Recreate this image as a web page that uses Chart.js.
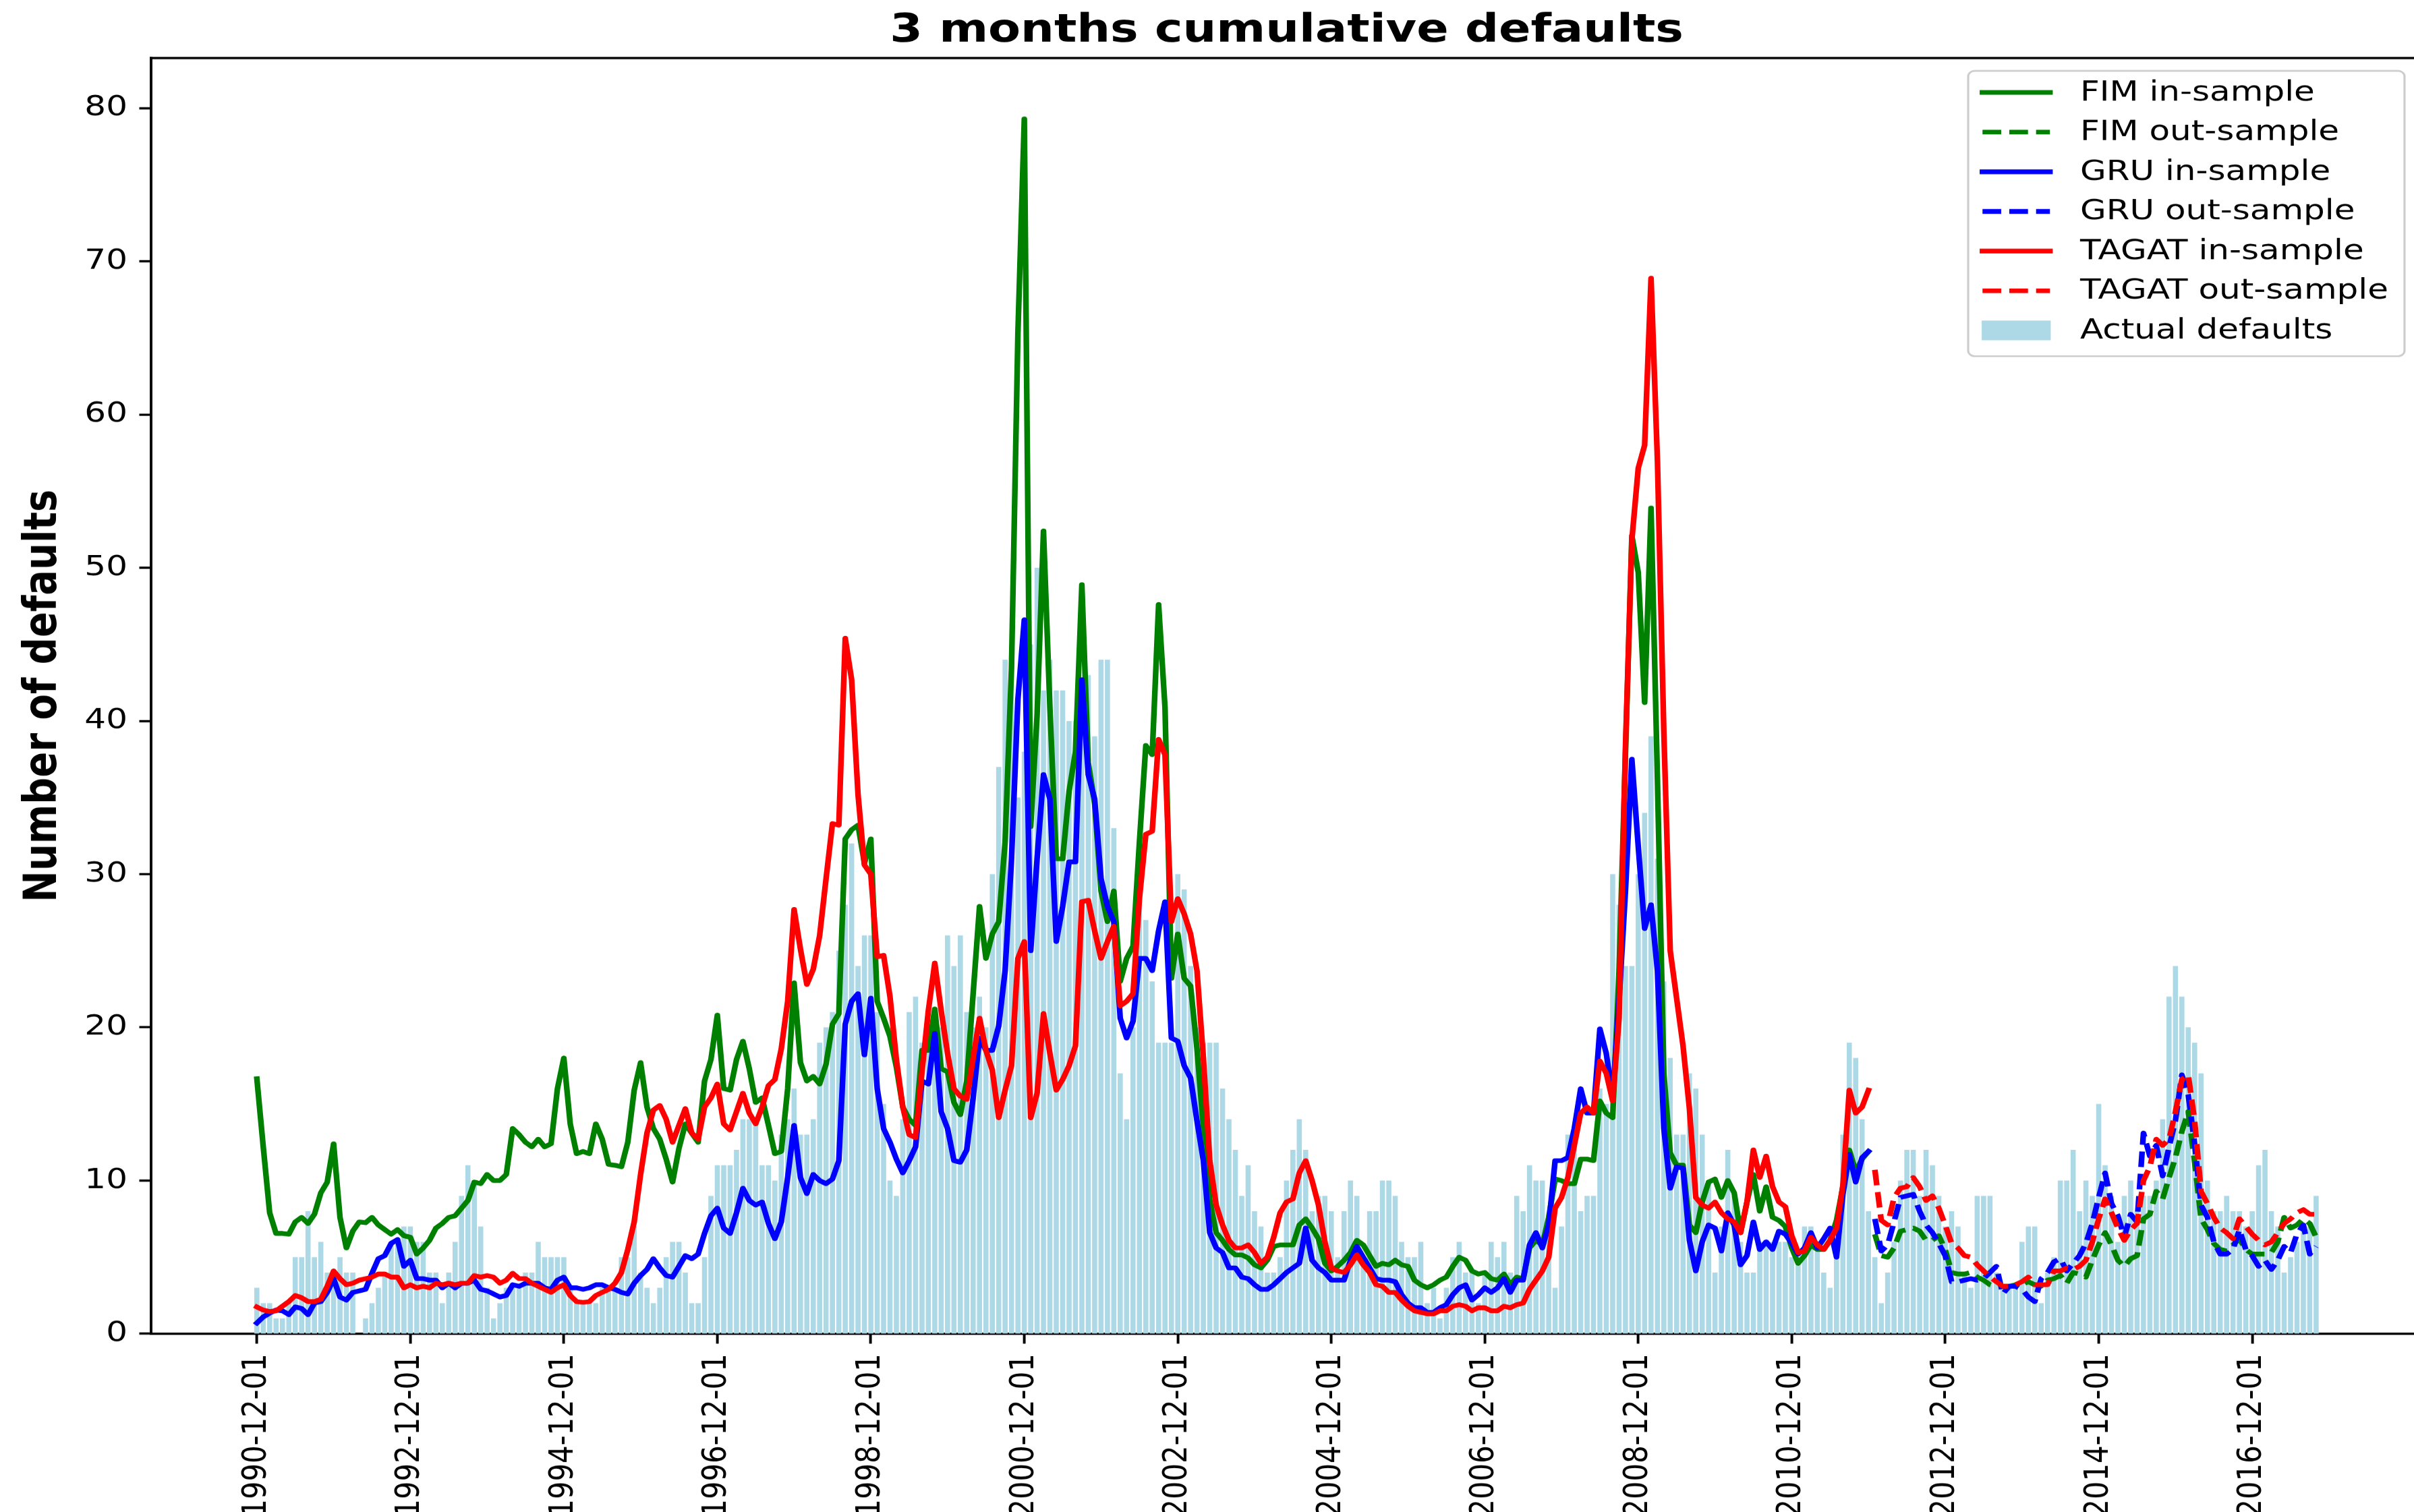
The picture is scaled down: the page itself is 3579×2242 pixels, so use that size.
<!DOCTYPE html>
<html>
<head>
<meta charset="utf-8">
<title>3 months cumulative defaults</title>
<script src="https://cdn.jsdelivr.net/npm/chart.js"></script>
<style>
  html, body { margin: 0; padding: 0; background: #fff; overflow: hidden; }
  /* the figure is laid out on a narrower canvas and widened horizontally */
  #wrap { position: absolute; left: 0; top: 0; transform-origin: 0 0; }
  canvas { display: block; }
</style>
</head>
<body>
<div id="wrap"><canvas id="c" width="2983" height="2242"></canvas></div>
<script>
// ---------------------------------------------------------------------------
// Data: monthly 3-month cumulative default counts, Dec 1990 - Oct 2017
// ---------------------------------------------------------------------------
const startYear = 1990, startMonth = 12, monthCount = 323;

const tickLabels = ['1990-12-01', '1992-12-01', '1994-12-01', '1996-12-01', '1998-12-01',
  '2000-12-01', '2002-12-01', '2004-12-01', '2006-12-01', '2008-12-01', '2010-12-01',
  '2012-12-01', '2014-12-01', '2016-12-01'];

const yTicks = [0, 10, 20, 30, 40, 50, 60, 70, 80];

const actualDefaults = [
  3, 2, 2, 1, 1, 2, 5, 5, 8, 5,
  6, 4, 4, 5, 4, 4, 0, 1, 2, 3,
  4, 6, 6, 7, 7, 6, 6, 4, 4, 2,
  4, 6, 9, 11, 10, 7, 3, 1, 2, 3,
  3, 3, 4, 4, 6, 5, 5, 5, 5, 3,
  2, 2, 2, 2, 3, 3, 3, 5, 5, 7,
  4, 3, 2, 3, 5, 6, 6, 4, 2, 2,
  5, 9, 11, 11, 11, 12, 14, 14, 14, 11,
  11, 10, 13, 14, 16, 13, 13, 14, 19, 20,
  21, 25, 28, 32, 24, 26, 26, 21, 15, 10,
  9, 14, 21, 22, 19, 19, 18, 20, 26, 24,
  26, 21, 20, 22, 20, 30, 37, 44, 44, 35,
  38, 45, 50, 42, 44, 42, 42, 40, 40, 42,
  43, 39, 44, 44, 33, 17, 14, 20, 30, 27,
  23, 19, 19, 19, 30, 29, 24, 20, 19, 19,
  19, 16, 14, 12, 9, 11, 8, 7, 4, 4,
  5, 10, 12, 14, 12, 8, 9, 9, 8, 5,
  8, 10, 9, 5, 8, 8, 10, 10, 9, 6,
  5, 5, 6, 2, 3, 1, 3, 5, 6, 4,
  4, 2, 4, 6, 5, 6, 4, 9, 8, 11,
  10, 10, 7, 3, 7, 13, 13, 8, 9, 9,
  16, 15, 30, 28, 24, 24, 30, 34, 39, 31,
  23, 18, 13, 13, 17, 16, 13, 10, 4, 7,
  12, 9, 6, 4, 4, 6, 6, 6, 6, 6,
  5, 5, 7, 7, 6, 4, 3, 6, 13, 19,
  18, 14, 8, 5, 2, 4, 6, 10, 12, 12,
  9, 12, 11, 9, 7, 8, 7, 4, 3, 9,
  9, 9, 4, 3, 3, 3, 6, 7, 7, 2,
  4, 5, 10, 10, 12, 8, 10, 9, 15, 11,
  9, 6, 9, 10, 8, 9, 9, 10, 14, 22,
  24, 22, 20, 19, 17, 10, 8, 8, 9, 8,
  8, 7, 8, 11, 12, 8, 7, 4, 5, 6,
  7, 7, 9
];

// in-sample fits, Dec 1990 - Dec 2011
const fimIn = [
  16.65, 12.2, 7.9, 6.55, 6.55, 6.5, 7.3, 7.6, 7.2, 7.8,
  9.2, 9.9, 12.4, 7.6, 5.6, 6.7, 7.3, 7.25, 7.6, 7.1,
  6.8, 6.5, 6.8, 6.4, 6.3, 5.2, 5.6, 6.1, 6.9, 7.2,
  7.6, 7.7, 8.2, 8.7, 9.9, 9.8, 10.4, 10.0, 10.0, 10.4,
  13.4, 13.0, 12.5, 12.2, 12.7, 12.2, 12.4, 16.0, 18.0, 13.7,
  11.75, 11.9, 11.75, 13.7, 12.7, 11.05, 11.0, 10.9, 12.5, 15.9,
  17.7, 14.8, 13.4, 12.7, 11.4, 9.9, 12.1, 13.7, 13.1, 12.5,
  16.5, 17.9, 20.8, 16.0, 15.9, 17.9, 19.1, 17.3, 15.1, 15.4,
  13.6, 11.75, 11.9, 16.0, 22.9, 17.7, 16.5, 16.8, 16.3, 17.6,
  20.2, 20.9, 32.3, 32.9, 33.2, 30.7, 32.3, 21.7, 20.6, 19.4,
  17.4, 14.8, 14.0, 13.6, 18.5, 18.5, 21.2, 17.3, 17.1, 15.1,
  14.3, 16.5, 22.2, 27.9, 24.5, 26.1, 26.9, 32.1, 43.5, 65.3,
  79.3, 33.1, 40.4, 52.4, 40.9, 31.0, 31.0, 35.4, 38.0, 48.9,
  37.3, 34.6, 28.9, 26.9, 28.9, 23.0, 24.5, 25.3, 32.1, 38.4,
  37.8, 47.6, 40.9, 23.2, 26.1, 23.2, 22.7, 18.6, 13.4, 8.7,
  6.6, 6.1, 5.5, 5.15, 5.15, 4.95, 4.5, 4.3, 4.8, 5.7,
  5.8, 5.8, 5.8, 7.1, 7.5, 6.9, 6.2, 4.6, 4.1, 4.4,
  4.8, 5.3, 6.1, 5.8, 5.1, 4.4, 4.6, 4.5, 4.8, 4.5,
  4.4, 3.5, 3.2, 3.0, 3.2, 3.5, 3.7, 4.4, 5.0, 4.8,
  4.1, 3.9, 4.0, 3.6, 3.5, 3.9, 3.2, 3.7, 3.6, 5.6,
  6.1, 5.8, 7.6, 10.1, 10.0, 9.8, 9.8, 11.4, 11.4, 11.3,
  15.2, 14.4, 14.1, 23.7, 37.8, 52.1, 49.7, 41.2, 53.9, 36.2,
  17.0, 11.8, 11.0, 11.0, 7.1, 6.6, 8.6, 9.9, 10.1, 8.9,
  10.0, 9.2, 6.6, 8.6, 10.4, 8.0, 9.6, 7.6, 7.4, 7.0,
  5.6, 4.6, 5.1, 5.8, 5.5, 5.5, 6.1, 7.4, 9.6, 12.0,
  10.6, 11.4, 11.9
];

const gruIn = [
  0.7, 1.1, 1.35, 1.55, 1.5, 1.25, 1.75, 1.65, 1.25, 2.0,
  2.1, 2.7, 3.6, 2.4, 2.2, 2.7, 2.8, 2.9, 3.95, 4.9,
  5.1, 5.9, 6.15, 4.4, 4.8, 3.6, 3.6, 3.5, 3.5, 3.0,
  3.3, 3.0, 3.3, 3.3, 3.5, 2.9, 2.8, 2.6, 2.4, 2.5,
  3.2, 3.1, 3.3, 3.3, 3.3, 3.0, 2.9, 3.5, 3.7, 3.0,
  3.0, 2.9, 3.0, 3.2, 3.2, 3.0, 2.9, 2.7, 2.6, 3.3,
  3.8, 4.2, 4.9, 4.3, 3.8, 3.7, 4.4, 5.1, 4.9, 5.2,
  6.55, 7.7, 8.2, 6.9, 6.55, 7.9, 9.5, 8.7, 8.4, 8.6,
  7.2, 6.2, 7.3, 10.2, 13.6, 10.2, 9.15, 10.4, 10.0, 9.8,
  10.1, 11.3, 20.2, 21.7, 22.2, 18.2, 21.9, 16.0, 13.4, 12.5,
  11.4, 10.5, 11.3, 12.2, 16.5, 16.3, 19.6, 14.5, 13.4, 11.3,
  11.2, 12.0, 15.4, 19.3, 18.5, 18.5, 20.1, 23.7, 31.0, 41.4,
  46.6, 25.0, 31.0, 36.5, 34.9, 25.6, 27.9, 30.8, 30.8, 42.7,
  36.5, 34.9, 29.7, 27.9, 26.9, 20.6, 19.3, 20.4, 24.5, 24.5,
  23.7, 26.3, 28.2, 19.3, 19.1, 17.5, 16.7, 13.9, 11.3, 6.6,
  5.6, 5.3, 4.3, 4.3, 3.7, 3.6, 3.2, 2.9, 2.9, 3.2,
  3.6, 4.0, 4.3, 4.6, 6.9, 4.8, 4.3, 4.0, 3.5, 3.5,
  3.5, 4.8, 5.7, 5.0, 4.3, 3.6, 3.5, 3.5, 3.4, 2.55,
  2.0, 1.7, 1.7, 1.4, 1.4, 1.7, 1.9, 2.55, 3.0, 3.2,
  2.2, 2.55, 3.0, 2.7, 3.0, 3.6, 2.7, 3.5, 3.5, 5.8,
  6.6, 5.6, 7.1, 11.3, 11.3, 11.5, 13.4, 16.0, 14.4, 14.4,
  19.9, 18.3, 15.4, 21.7, 28.9, 37.5, 31.8, 26.45, 28.0, 23.7,
  13.4, 9.5, 10.9, 10.8, 6.1, 4.1, 6.0, 7.1, 6.9, 5.4,
  7.9, 7.1, 4.5, 5.1, 7.3, 5.5, 6.0, 5.5, 6.7, 6.5,
  5.9, 5.2, 5.6, 6.6, 5.6, 6.2, 6.9, 5.0, 9.1, 11.7,
  9.9, 11.5, 11.9
];

const tagatIn = [
  1.75, 1.55, 1.45, 1.5, 1.8, 2.1, 2.5, 2.35, 2.1, 2.1,
  2.25, 3.1, 4.1, 3.6, 3.2, 3.3, 3.5, 3.6, 3.7, 3.9,
  3.9, 3.7, 3.7, 3.0, 3.2, 3.0, 3.1, 3.0, 3.3, 3.2,
  3.3, 3.2, 3.3, 3.3, 3.8, 3.7, 3.8, 3.7, 3.3, 3.5,
  3.95, 3.6, 3.6, 3.3, 3.1, 2.9, 2.7, 3.0, 3.2, 2.5,
  2.1, 2.05, 2.1, 2.5, 2.7, 2.9, 3.3, 4.0, 5.5, 7.3,
  10.4, 13.1, 14.6, 14.9, 14.0, 12.5, 13.6, 14.7, 13.1, 12.7,
  14.8, 15.4, 16.3, 13.7, 13.3, 14.5, 15.7, 14.4, 13.7, 14.8,
  16.2, 16.6, 18.6, 21.7, 27.7, 25.1, 22.8, 23.8, 26.0, 29.7,
  33.3, 33.2, 45.4, 42.7, 35.2, 30.6, 30.0, 24.6, 24.7, 22.0,
  17.9, 14.8, 13.0, 12.8, 17.1, 21.1, 24.2, 21.1, 18.3, 16.0,
  15.5, 15.3, 18.0, 20.6, 18.5, 17.2, 14.1, 15.9, 17.5, 24.5,
  25.6, 14.1, 15.7, 20.9, 18.3, 15.9, 16.6, 17.5, 18.8, 28.2,
  28.3, 26.3, 24.5, 25.6, 26.6, 21.4, 21.7, 22.2, 28.4, 32.6,
  32.8, 38.8, 37.8, 26.9, 28.4, 27.4, 26.1, 23.7, 18.0, 11.3,
  8.4, 7.1, 6.1, 5.6, 5.6, 5.8, 5.3, 4.6, 5.0, 6.3,
  7.9, 8.6, 8.8, 10.5, 11.3, 10.0, 8.4, 6.0, 4.3, 4.1,
  4.0, 4.5, 5.15, 4.5, 4.0, 3.2, 3.1, 2.7, 2.7, 2.2,
  1.8, 1.5, 1.4, 1.3, 1.3, 1.5, 1.5, 1.8, 1.9, 1.8,
  1.5, 1.7, 1.7, 1.5, 1.5, 1.8, 1.7, 1.9, 2.0, 2.9,
  3.5, 4.1, 5.0, 8.2, 8.9, 10.2, 12.3, 14.4, 14.8, 14.4,
  17.8, 17.0, 15.2, 20.6, 38.3, 51.8, 56.5, 58.0, 68.9, 57.0,
  39.3, 25.0, 21.9, 18.8, 14.7, 8.9, 8.4, 8.2, 8.6, 7.9,
  7.5, 7.3, 6.6, 8.6, 12.0, 10.2, 11.6, 9.6, 8.6, 8.3,
  6.4, 5.3, 5.4, 6.3, 5.8, 5.5, 6.1, 6.9, 9.7, 15.9,
  14.4, 14.8, 15.9
];

// out-of-sample forecasts, Jan 2012 - Oct 2017
const fimOut = [
  6.5, 5.1, 5.0, 5.6, 6.7, 6.8, 6.9, 6.7, 6.1, 6.1,
  6.4, 5.5, 4.0, 3.9, 3.9, 4.0, 3.7, 3.5, 3.2, 3.1,
  3.1, 3.1, 3.2, 3.2, 3.4, 3.2, 3.1, 3.5, 3.6, 3.8,
  3.3, 4.0, 3.9, 3.7, 4.8, 5.8, 6.6, 5.8, 4.8, 4.4,
  4.9, 5.1, 7.5, 7.8, 9.3, 8.8, 10.2, 11.5, 13.2, 14.5,
  11.2, 7.5, 6.8, 5.9, 5.5, 5.4, 5.8, 6.2, 5.5, 5.2,
  5.2, 5.2, 5.3, 6.0, 7.6, 6.9, 7.1, 7.5, 7.2, 6.3
];

const gruOut = [
  7.5, 5.4, 5.8, 7.3, 8.9, 9.0, 9.1, 8.0, 7.1, 6.6,
  5.9, 5.1, 3.4, 3.4, 3.5, 3.6, 3.5, 3.6, 4.0, 4.4,
  2.6, 3.1, 3.1, 2.9, 2.4, 2.1, 3.6, 4.0, 4.7, 4.9,
  4.1, 4.6, 5.1, 5.9, 7.2, 8.9, 10.5, 8.5, 7.7, 6.3,
  7.8, 7.3, 13.1, 11.6, 12.3, 10.3, 12.2, 13.9, 16.9, 15.6,
  12.4, 8.4, 7.6, 6.0, 5.2, 5.2, 5.5, 6.8, 5.5, 5.1,
  4.4, 4.8, 4.2, 4.8, 5.7, 5.3, 6.5, 7.1, 5.2, 5.7
];

const tagatOut = [
  10.7, 7.4, 7.1, 8.9, 9.5, 9.6, 10.2, 9.6, 8.7, 9.0,
  8.2, 7.1, 5.9, 5.6, 5.1, 5.0, 4.5, 4.1, 3.7, 3.4,
  3.1, 3.1, 3.2, 3.4, 3.7, 3.2, 3.2, 3.2, 4.1, 4.1,
  4.3, 4.2, 4.4, 4.8, 6.0, 7.5, 8.8, 7.9, 6.9, 6.1,
  6.8, 7.2, 10.0, 10.9, 12.7, 12.3, 12.7, 14.5, 16.6, 16.9,
  13.9, 9.3, 8.5, 7.6, 6.9, 6.6, 6.2, 7.5, 7.0, 6.5,
  6.1, 5.8, 6.0, 6.6, 7.2, 7.5, 7.9, 8.1, 7.8, 7.8
];

// month labels ("YYYY-MM-01"), one per data index
const months = [];
for (let k = 0; k < monthCount; k++) {
  const m = startMonth - 1 + k;
  const y = startYear + Math.floor(m / 12);
  months.push(y + '-' + String(m % 12 + 1).padStart(2, '0') + '-01');
}

// ---------------------------------------------------------------------------
// Figure geometry (canvas units; the canvas is widened by STRETCH on screen)
// ---------------------------------------------------------------------------
const FIG_W = 2983, FIG_H = 2242, OUT_W = 3579;
const STRETCH = OUT_W / FIG_W;
const PLOT_LEFT = 186.7, PLOT_TOP = 86, PLOT_BOTTOM = 1977;
const X_MIN = -16.54, X_MAX = 337.3, Y_MAX = 83.27;
const LW = 7, SPINE = 3.3, TICK_LEN = 14.6;
const DASH = [23.1, 10];
const GREEN = '#008000', BLUE = '#0000ff', RED = '#ff0000', BAR = '#add8e6';
const FONT = 'DejaVu Sans';

const wrap = document.getElementById('wrap');
wrap.style.width = FIG_W + 'px';
wrap.style.height = FIG_H + 'px';
wrap.style.transform = 'scaleX(' + STRETCH + ')';

Chart.defaults.font.family = FONT;
Chart.defaults.color = '#000';

const toPoints = (values, offset) => values.map((v, k) => ({ x: offset + k, y: v }));
const outStart = fimIn.length;

function lineSet(label, values, offset, color, dashed, order) {
  return {
    type: 'line', label, data: toPoints(values, offset),
    borderColor: color, backgroundColor: color, borderWidth: LW,
    borderDash: dashed ? DASH : [], borderCapStyle: dashed ? 'butt' : 'square',
    borderJoinStyle: 'round', pointRadius: 0, pointHoverRadius: 0,
    fill: false, tension: 0, order
  };
}

const datasets = [
  lineSet('FIM in-sample', fimIn, 0, GREEN, false, 6),
  lineSet('FIM out-sample', fimOut, outStart, GREEN, true, 5),
  lineSet('GRU in-sample', gruIn, 0, BLUE, false, 4),
  lineSet('GRU out-sample', gruOut, outStart, BLUE, true, 3),
  lineSet('TAGAT in-sample', tagatIn, 0, RED, false, 2),
  lineSet('TAGAT out-sample', tagatOut, outStart, RED, true, 1),
  {
    type: 'bar', label: 'Actual defaults', data: toPoints(actualDefaults, 0),
    backgroundColor: BAR, borderWidth: 0, barPercentage: 0.8, categoryPercentage: 1.0, order: 7
  }
];

// title, top spine and framed legend
const figureDecor = {
  id: 'figureDecor',
  afterDraw(chart) {
    const { ctx, chartArea: a } = chart;
    ctx.save();

    ctx.strokeStyle = '#000';
    ctx.lineWidth = SPINE;
    ctx.beginPath();
    ctx.moveTo(a.left - SPINE / 2, a.top);
    ctx.lineTo(a.right, a.top);
    ctx.stroke();

    ctx.fillStyle = '#000';
    ctx.font = 'bold 58.3px "' + FONT + '"';
    ctx.textAlign = 'center';
    ctx.textBaseline = 'alphabetic';
    ctx.fillText('3 months cumulative defaults', 1589.9, 61.7);

    // legend box
    const box = { l: 2432.1, t: 105, r: 2971.3, b: 528, rad: 8.3 };
    ctx.beginPath();
    ctx.roundRect(box.l, box.t, box.r - box.l, box.b - box.t, box.rad);
    ctx.fillStyle = 'rgba(255,255,255,0.8)';
    ctx.fill();
    ctx.strokeStyle = '#cccccc';
    ctx.lineWidth = 2.6;
    ctx.stroke();

    const x0 = 2449.8, x1 = 2533.1, textX = 2570.4, rowY = 137, rowStep = 58.8;
    ctx.font = '41.67px "' + FONT + '"';
    ctx.textAlign = 'left';
    ctx.textBaseline = 'middle';
    chart.data.datasets.forEach((ds, k) => {
      const y = rowY + k * rowStep;
      if (ds.type === 'line') {
        ctx.strokeStyle = ds.borderColor;
        ctx.lineWidth = LW;
        ctx.setLineDash(ds.borderDash);
        ctx.lineCap = ds.borderCapStyle;
        ctx.beginPath();
        ctx.moveTo(x0, y);
        ctx.lineTo(x1, y);
        ctx.stroke();
        ctx.setLineDash([]);
      } else {
        ctx.fillStyle = ds.backgroundColor;
        ctx.fillRect(x0 - 1, y - 14.6, x1 - x0 + 2, 29.2);
      }
      ctx.fillStyle = '#000';
      ctx.fillText(ds.label, textX, y + 1);
    });
    ctx.restore();
  }
};

const axisGrid = {
  display: true, drawOnChartArea: false, drawTicks: true, offset: false,
  tickLength: TICK_LEN, tickWidth: SPINE, tickColor: '#000'
};
const axisBorder = { display: true, color: '#000', width: SPINE };

new Chart(document.getElementById('c'), {
  type: 'bar',
  data: { datasets },
  options: {
    responsive: false,
    devicePixelRatio: STRETCH,
    animation: false,
    events: [],
    layout: { autoPadding: false, padding: { left: 0, right: 0, top: PLOT_TOP, bottom: 0 } },
    plugins: { legend: { display: false }, tooltip: { enabled: false }, title: { display: false } },
    scales: {
      x: {
        type: 'linear', min: X_MIN, max: X_MAX, offset: false,
        grid: axisGrid, border: axisBorder,
        ticks: {
          autoSkip: false, minRotation: 90, maxRotation: 90, padding: 15,
          color: '#000', font: { size: 41.67, family: FONT },
          callback: (value) => months[value] ?? ''
        },
        afterBuildTicks: (scale) => {
          scale.ticks = tickLabels.map((label) => ({ value: months.indexOf(label) }));
        },
        afterFit: (scale) => { scale.height = FIG_H - PLOT_BOTTOM; }
      },
      y: {
        type: 'linear', min: 0, max: Y_MAX,
        grid: axisGrid, border: axisBorder,
        ticks: { padding: 14.6, color: '#000', font: { size: 41.67, family: FONT } },
        afterBuildTicks: (scale) => {
          scale.ticks = yTicks.map((v) => ({ value: v }));
        },
        afterFit: (scale) => { scale.width = PLOT_LEFT; },
        title: {
          display: true, text: 'Number of defaults', color: '#000',
          font: { size: 56, weight: 'bold', family: FONT },
          padding: { top: 21, bottom: 0 }
        }
      }
    }
  },
  plugins: [figureDecor]
});
</script>
</body>
</html>
